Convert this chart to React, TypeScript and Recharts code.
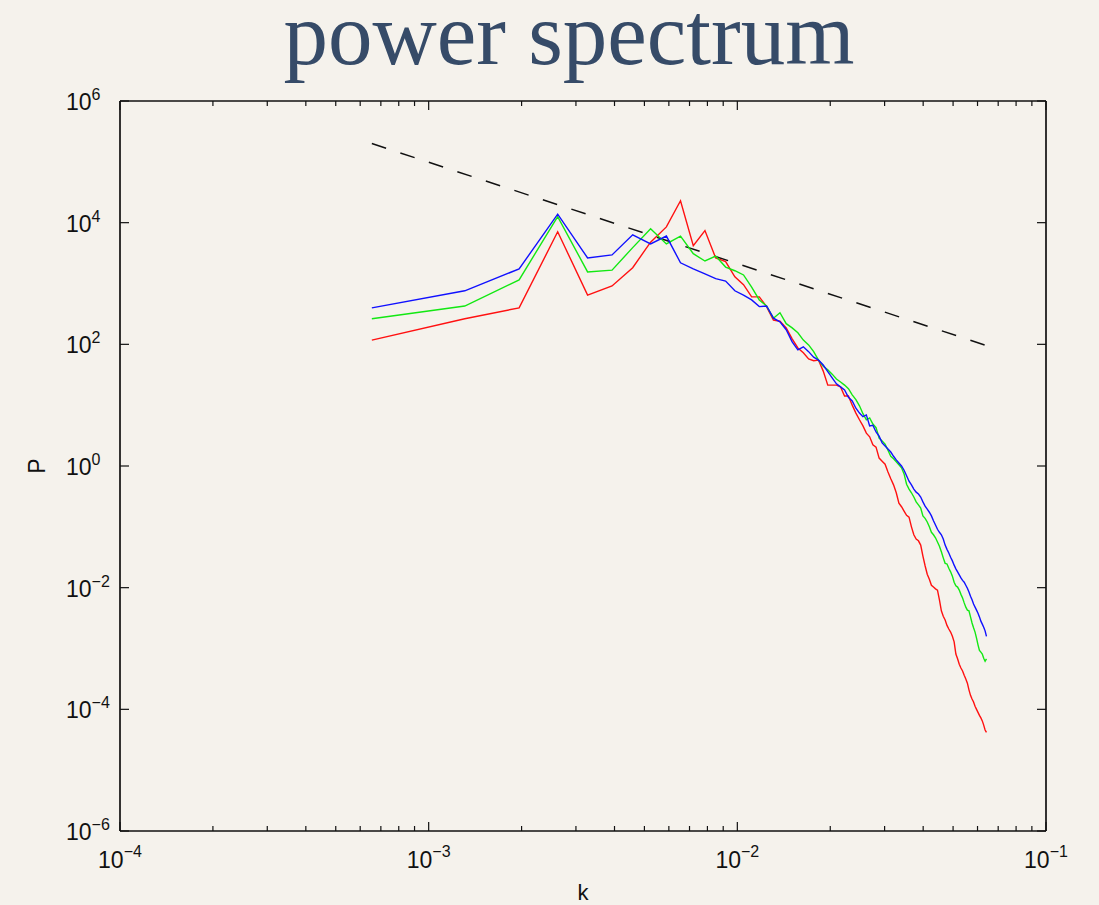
import React from 'react';
import { LineChart, Line, XAxis, YAxis } from 'recharts';

// wavenumber step between harmonics, k = n * K_STEP
const K_STEP = 6.545e-4;
const HARMONICS = Array.from({ length: 98 }, (_, i) => i + 1);

// log10 P, one value per harmonic n = 1..98
const logRed = [
  2.07, 2.42, 2.60, 3.85, 2.81, 2.96, 3.26, 3.68, 3.93, 4.36,
  3.62, 3.87, 3.42, 3.36, 3.11, 2.98, 2.78, 2.78, 2.62, 2.40,
  2.38, 2.27, 2.09, 1.94, 1.86, 1.76, 1.73, 1.74, 1.56, 1.33,
  1.33, 1.33, 1.30, 1.15, 1.15, 1.00, 0.87, 0.76, 0.66, 0.54,
  0.48, 0.35, 0.31, 0.13, 0.08, 0.03, -0.10, -0.21, -0.31, -0.44,
  -0.61, -0.67, -0.74, -0.81, -0.84, -1.00, -1.13, -1.20, -1.23, -1.30,
  -1.48, -1.64, -1.78, -1.86, -1.96, -1.99, -2.02, -2.04, -2.20, -2.38,
  -2.47, -2.53, -2.62, -2.68, -2.73, -2.80, -2.89, -3.09, -3.17, -3.26,
  -3.32, -3.37, -3.44, -3.50, -3.57, -3.68, -3.77, -3.83, -3.88, -3.95,
  -4.00, -4.05, -4.10, -4.14, -4.19, -4.26, -4.34, -4.38,
];

const logGreen = [
  2.42, 2.63, 3.06, 4.10, 3.19, 3.22, 3.59, 3.90, 3.65, 3.78,
  3.49, 3.37, 3.45, 3.27, 3.21, 3.14, 2.94, 2.73, 2.63, 2.43,
  2.52, 2.34, 2.27, 2.19, 2.07, 1.99, 1.88, 1.74, 1.64, 1.58,
  1.51, 1.43, 1.38, 1.33, 1.27, 1.17, 1.09, 0.99, 0.86, 0.76,
  0.79, 0.69, 0.63, 0.46, 0.41, 0.36, 0.26, 0.16, 0.12, 0.07,
  0.02, -0.03, -0.13, -0.30, -0.38, -0.44, -0.51, -0.59, -0.64, -0.69,
  -0.82, -0.86, -0.92, -1.00, -1.09, -1.13, -1.18, -1.25, -1.32, -1.41,
  -1.51, -1.60, -1.61, -1.68, -1.74, -1.81, -1.91, -1.97, -1.99, -2.04,
  -2.11, -2.17, -2.25, -2.32, -2.37, -2.38, -2.48, -2.58, -2.66, -2.73,
  -2.83, -2.94, -3.03, -3.06, -3.09, -3.16, -3.21, -3.17,
];

const logBlue = [
  2.60, 2.88, 3.24, 4.14, 3.42, 3.47, 3.80, 3.65, 3.78, 3.34,
  3.24, 3.16, 3.08, 3.04, 2.88, 2.81, 2.73, 2.62, 2.63, 2.43,
  2.37, 2.24, 2.04, 1.91, 1.96, 1.88, 1.79, 1.74, 1.66, 1.55,
  1.45, 1.35, 1.30, 1.25, 1.13, 1.07, 0.95, 0.87, 0.81, 0.84,
  0.66, 0.67, 0.56, 0.49, 0.38, 0.33, 0.28, 0.23, 0.16, 0.10,
  0.05, 0.00, -0.07, -0.16, -0.25, -0.31, -0.38, -0.43, -0.46, -0.51,
  -0.59, -0.66, -0.71, -0.76, -0.82, -0.90, -0.97, -1.04, -1.09, -1.13,
  -1.20, -1.30, -1.37, -1.43, -1.50, -1.56, -1.63, -1.69, -1.74, -1.79,
  -1.84, -1.88, -1.91, -1.96, -2.01, -2.07, -2.14, -2.20, -2.27, -2.32,
  -2.37, -2.42, -2.48, -2.55, -2.60, -2.65, -2.71, -2.80,
];

// k^(-5/3) reference line, log10 P at the first and last harmonic
const logRefStart = 5.30;
const logRefEnd = 1.98;

const X_DECADES = [-4, -3, -2, -1];
const Y_DECADES = [-6, -4, -2, 0, 2, 4, 6];
const MINOR = [2, 3, 4, 5, 6, 7, 8, 9];

const xTicks: number[] = [];
X_DECADES.forEach((d, i) => {
  xTicks.push(Math.pow(10, d));
  if (i < X_DECADES.length - 1) MINOR.forEach(m => xTicks.push(m * Math.pow(10, d)));
});
const yTicks = Y_DECADES.map(d => Math.pow(10, d));

const data = HARMONICS.map((n, i) => ({
  k: n * K_STEP,
  red: Math.pow(10, logRed[i]),
  green: Math.pow(10, logGreen[i]),
  blue: Math.pow(10, logBlue[i]),
  ref: i === 0 ? Math.pow(10, logRefStart) : i === HARMONICS.length - 1 ? Math.pow(10, logRefEnd) : null,
}));

const INK = '#111';
const SANS = '"Liberation Sans", Arial, Helvetica, sans-serif';
const BG = '#f5f2ec';

const expOf = (v: number) => Math.log10(v);
const isMajor = (v: number) => Math.abs(expOf(v) - Math.round(expOf(v))) < 1e-6;
const expText = (v: number) => {
  const e = Math.round(expOf(v));
  return e < 0 ? '\u2212' + Math.abs(e) : String(e);
};

const BottomTick = (props: any) => {
  const { x, y, payload } = props;
  const major = isMajor(payload.value);
  return (
    <g>
      <line x1={x} x2={x} y1={y} y2={y - (major ? 9 : 5)} stroke={INK} strokeWidth={1.2} />
      {major && (
        <text x={x} y={y + 37} textAnchor="middle" fontFamily={SANS} fontSize={23} fill={INK}>
          <tspan>10</tspan>
          <tspan dy={-11} fontSize={16}>{expText(payload.value)}</tspan>
        </text>
      )}
    </g>
  );
};

const TopTick = (props: any) => {
  const { x, y, payload } = props;
  const major = isMajor(payload.value);
  return <line x1={x} x2={x} y1={y} y2={y + (major ? 9 : 5)} stroke={INK} strokeWidth={1.2} />;
};

const LeftTick = (props: any) => {
  const { x, y, payload } = props;
  return (
    <g>
      <line x1={x} x2={x + 9} y1={y} y2={y} stroke={INK} strokeWidth={1.2} />
      <text x={66} y={y + 9} textAnchor="start" fontFamily={SANS} fontSize={23} fill={INK}>
        <tspan>10</tspan>
        <tspan dy={-10} fontSize={16}>{expText(payload.value)}</tspan>
      </text>
    </g>
  );
};

const RightTick = (props: any) => {
  const { x, y } = props;
  return <line x1={x} x2={x - 9} y1={y} y2={y} stroke={INK} strokeWidth={1.2} />;
};

const axisLine = { stroke: INK, strokeWidth: 1.7 };

export default function App() {
  return (
    <div style={{ position: 'absolute', left: 0, top: 0, width: 1099, height: 905, background: BG, overflow: 'hidden' }}>
      <LineChart width={1099} height={905} data={data} margin={{ top: 91, right: 43, bottom: 24, left: 60 }}>
        <XAxis
          xAxisId="bottom"
          dataKey="k"
          type="number"
          scale="log"
          domain={[1e-4, 1e-1]}
          allowDataOverflow
          ticks={xTicks}
          interval={0}
          height={50}
          tickSize={0}
          tickMargin={0}
          tickLine={false}
          axisLine={axisLine}
          tick={BottomTick}
        />
        <XAxis
          xAxisId="top"
          orientation="top"
          dataKey="k"
          type="number"
          scale="log"
          domain={[1e-4, 1e-1]}
          allowDataOverflow
          ticks={xTicks}
          interval={0}
          height={10}
          tickSize={0}
          tickMargin={0}
          tickLine={false}
          axisLine={axisLine}
          tick={TopTick}
        />
        <YAxis
          yAxisId="left"
          type="number"
          scale="log"
          domain={[1e-6, 1e6]}
          allowDataOverflow
          ticks={yTicks}
          interval={0}
          width={60}
          tickSize={0}
          tickMargin={0}
          tickLine={false}
          axisLine={axisLine}
          tick={LeftTick}
        />
        <YAxis
          yAxisId="right"
          orientation="right"
          type="number"
          scale="log"
          domain={[1e-6, 1e6]}
          allowDataOverflow
          ticks={yTicks}
          interval={0}
          width={10}
          tickSize={0}
          tickMargin={0}
          tickLine={false}
          axisLine={axisLine}
          tick={RightTick}
        />
        <Line xAxisId="bottom" yAxisId="left" type="linear" dataKey="ref" stroke="#111" strokeWidth={1.5}
          strokeDasharray="15 15" dot={false} activeDot={false} connectNulls isAnimationActive={false} />
        <Line xAxisId="bottom" yAxisId="left" type="linear" dataKey="red" stroke="#ff1010" strokeWidth={1.4}
          dot={false} activeDot={false} isAnimationActive={false} />
        <Line xAxisId="bottom" yAxisId="left" type="linear" dataKey="green" stroke="#12e812" strokeWidth={1.4}
          dot={false} activeDot={false} isAnimationActive={false} />
        <Line xAxisId="bottom" yAxisId="left" type="linear" dataKey="blue" stroke="#1010ff" strokeWidth={1.4}
          dot={false} activeDot={false} isAnimationActive={false} />
      </LineChart>
      <svg width={1099} height={905} style={{ position: 'absolute', left: 0, top: 0, pointerEvents: 'none' }}>
        <text x={569} y={64} textAnchor="middle" fontFamily='"Liberation Serif", "Times New Roman", serif' fontSize={89} fill="#364b68">
          power spectrum
        </text>
        <text transform="translate(45,466) rotate(-90)" textAnchor="middle" fontFamily={SANS} fontSize={23} fill={INK}>
          P
        </text>
        <text x={583} y={900} textAnchor="middle" fontFamily={SANS} fontSize={22} fill={INK}>
          k
        </text>
      </svg>
    </div>
  );
}
